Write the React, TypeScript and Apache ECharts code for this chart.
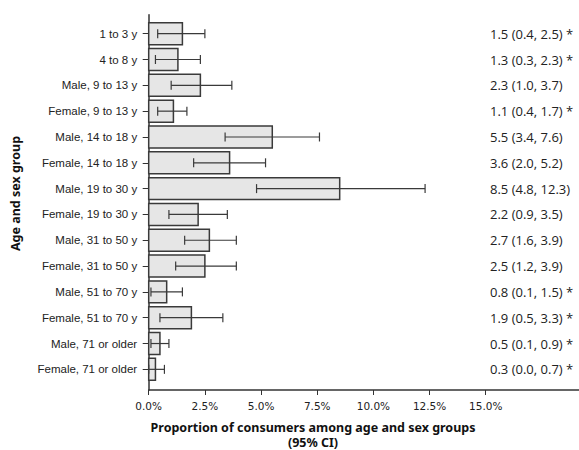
import React, { useEffect, useRef } from "react";
import * as echarts from "echarts";

const categories = [
  "1 to 3 y",
  "4 to 8 y",
  "Male, 9 to 13 y",
  "Female, 9 to 13 y",
  "Male, 14 to 18 y",
  "Female, 14 to 18 y",
  "Male, 19 to 30 y",
  "Female, 19 to 30 y",
  "Male, 31 to 50 y",
  "Female, 31 to 50 y",
  "Male, 51 to 70 y",
  "Female, 51 to 70 y",
  "Male, 71 or older",
  "Female, 71 or older",
];
const estimates = [1.5, 1.3, 2.3, 1.1, 5.5, 3.6, 8.5, 2.2, 2.7, 2.5, 0.8, 1.9, 0.5, 0.3];
const lower = [0.4, 0.3, 1.0, 0.4, 3.4, 2.0, 4.8, 0.9, 1.6, 1.2, 0.1, 0.5, 0.1, 0.0];
const upper = [2.5, 2.3, 3.7, 1.7, 7.6, 5.2, 12.3, 3.5, 3.9, 3.9, 1.5, 3.3, 0.9, 0.7];
const flagged = [true, true, false, true, false, false, false, false, false, false, true, true, true, true];
const xTicks = [0, 2.5, 5, 7.5, 10, 12.5, 15];

const LABEL_X = 15.19;

export default function App() {
  const ref = useRef<HTMLDivElement>(null);
  useEffect(() => {
    if (!ref.current) return;
    const chart = echarts.init(ref.current, null, { renderer: "svg" });
    const data = categories.map((_, i) => [i, estimates[i], lower[i], upper[i]]);
    const rowIdx = categories.map((_, i) => i);
    chart.setOption({
      animation: false,
      grid: { left: 148.7, right: 0, top: 14.7, bottom: 60 },
      xAxis: {
        type: "value",
        min: 0,
        max: 19.15,
        splitLine: { show: false },
        axisLine: { show: true, onZero: false, lineStyle: { color: "#333", width: 1.5 } },
        axisTick: { show: true, length: 5, customValues: xTicks, lineStyle: { color: "#333" } },
        axisLabel: {
          customValues: xTicks,
          formatter: (v: number) => v.toFixed(1) + "%",
          fontFamily: "DejaVu Sans",
          fontSize: 10.5,
          color: "#222",
          margin: 10,
        },
      },
      yAxis: {
        type: "value",
        inverse: true,
        min: -0.736,
        max: 13.8,
        splitLine: { show: false },
        axisLine: { show: true, onZero: false, lineStyle: { color: "#333", width: 1.5 } },
        axisTick: { show: true, length: 6, customValues: rowIdx, lineStyle: { color: "#333" } },
        axisLabel: {
          customValues: rowIdx,
          formatter: (v: number) => categories[Math.round(v)] ?? "",
          fontFamily: "Liberation Sans",
          fontSize: 11.5,
          color: "#222",
          margin: 11.5,
        },
      },
      series: [
        {
          type: "custom",
          data,
          encode: { x: [1, 2, 3], y: 0 },
          renderItem: (params: any, api: any) => {
            const idx = api.value(0);
            const v = api.value(1);
            const lo = api.value(2);
            const hi = api.value(3);
            const p0 = api.coord([0, idx]);
            const p1 = api.coord([v, idx]);
            const h = api.size([0, 1])[1] * 0.85;
            const pl = api.coord([lo, idx]);
            const ph = api.coord([hi, idx]);
            const pt = api.coord([LABEL_X, idx]);
            const cap = 4.5;
            const errStyle = { stroke: "#3a3a3a", lineWidth: 1.2 };
            const label =
              `${estimates[idx].toFixed(1)} (${lower[idx].toFixed(1)}, ${upper[idx].toFixed(1)})` +
              (flagged[idx] ? " *" : "");
            return {
              type: "group",
              children: [
                {
                  type: "rect",
                  shape: { x: p0[0], y: p0[1] - h / 2, width: p1[0] - p0[0], height: h },
                  style: { fill: "#e6e6e6", stroke: "#3a3a3a", lineWidth: 1.5 },
                },
                {
                  type: "line",
                  shape: { x1: pl[0], y1: pl[1], x2: ph[0], y2: ph[1] },
                  style: errStyle,
                },
                {
                  type: "line",
                  shape: { x1: pl[0], y1: pl[1] - cap, x2: pl[0], y2: pl[1] + cap },
                  style: errStyle,
                },
                {
                  type: "line",
                  shape: { x1: ph[0], y1: ph[1] - cap, x2: ph[0], y2: ph[1] + cap },
                  style: errStyle,
                },
                {
                  type: "text",
                  x: pt[0],
                  y: pt[1],
                  style: {
                    text: label,
                    fill: "#222",
                    font: '13px "Open Sans"',
                    textAlign: "left",
                    textVerticalAlign: "middle",
                  },
                },
              ],
            };
          },
        },
      ],
      graphic: [
        {
          type: "text",
          x: 313,
          y: 435,
          style: {
            text: "Proportion of consumers among age and sex groups\n(95% CI)",
            font: 'bold 12.5px "Noto Sans"',
            lineHeight: 15,
            fill: "#111",
            textAlign: "center",
            textVerticalAlign: "middle",
          },
        },
        {
          type: "text",
          x: 15,
          y: 193.5,
          rotation: Math.PI / 2,
          style: {
            text: "Age and sex group",
            font: 'bold 12.5px "Noto Sans"',
            fill: "#111",
            textAlign: "center",
            textVerticalAlign: "middle",
          },
        },
      ],
    });
    return () => chart.dispose();
  }, []);
  return <div ref={ref} style={{ width: 579, height: 450, position: "absolute", left: 0, top: 0 }} />;
}
